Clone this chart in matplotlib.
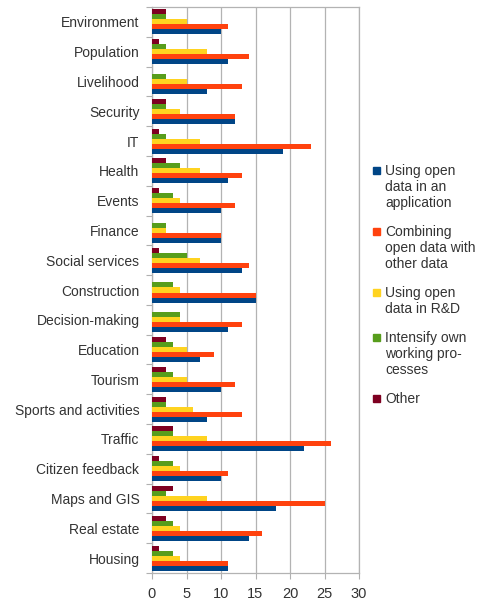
import numpy as np
import matplotlib
matplotlib.use("Agg")
import matplotlib.pyplot as plt
from matplotlib.patches import Rectangle

plt.rcParams['font.family'] = ['Liberation Sans', 'DejaVu Sans']

categories = ['Environment', 'Population', 'Livelihood', 'Security', 'IT', 'Health',
              'Events', 'Finance', 'Social services', 'Construction', 'Decision-making',
              'Education', 'Tourism', 'Sports and activities', 'Traffic',
              'Citizen feedback', 'Maps and GIS', 'Real estate', 'Housing']

application = [10, 11, 8, 12, 19, 11, 10, 10, 13, 15, 11, 7, 10, 8, 22, 10, 18, 14, 11]
combining = [11, 14, 13, 12, 23, 13, 12, 10, 14, 15, 13, 9, 12, 13, 26, 11, 25, 16, 11]
rnd = [5, 8, 5, 4, 7, 7, 4, 2, 7, 4, 4, 5, 5, 6, 8, 4, 8, 4, 4]
intensify = [2, 2, 2, 2, 2, 4, 3, 2, 5, 3, 4, 3, 3, 2, 3, 3, 2, 3, 3]
other = [2, 1, 0, 2, 1, 2, 1, 0, 1, 0, 0, 2, 2, 2, 3, 1, 3, 2, 1]

series = [
    ('Using open\ndata in an\napplication', application, '#004586'),
    ('Combining\nopen data with\nother data', combining, '#ff420e'),
    ('Using open\ndata in R&D', rnd, '#ffd320'),
    ('Intensify own\nworking pro-\ncesses', intensify, '#579d1c'),
    ('Other', other, '#7e0021'),
]

W, H = 478, 603
fig = plt.figure(figsize=(W / 100, H / 100), dpi=100)
ax = fig.add_axes([152 / W, 1 - 573 / H, 207 / W, 566 / H])

n = len(categories)
pos = np.arange(n)[::-1]
h = 0.168
for k, (name, vals, col) in enumerate(series):
    ax.barh(pos + (k - 2) * h, vals, height=h, color=col, zorder=3)

ax.set_xlim(0, 30)
ax.set_ylim(-0.5, n - 0.5)
ax.set_xticks(range(0, 31, 5))
ax.set_yticks(np.arange(n + 1) - 0.5)
ax.set_yticklabels([])
ax.set_yticks(pos, minor=True)
ax.set_yticklabels(categories, minor=True)
ax.tick_params(axis='y', which='major', length=4, color='#b0b0b0')
ax.tick_params(axis='y', which='minor', length=0, pad=9, labelsize=10, labelcolor='#333333')
ax.tick_params(axis='x', length=4, color='#b0b0b0', labelsize=10.5, labelcolor='#333333', pad=6)
ax.grid(axis='x', color='#b3b3b3', linewidth=0.9, zorder=0)
for s in ax.spines.values():
    s.set_color('#b3b3b3')
    s.set_linewidth(0.9)

# legend drawn by hand so the marker sits on the first text line
line_px = 16.3
gap_px = 12.2
y = 170.0
for name, _, col in series:
    fig.patches.append(Rectangle((373 / W, 1 - (y + 3.5) / H), 7 / W, 7 / H,
                                 transform=fig.transFigure, color=col))
    fig.text(385 / W, 1 - (y - 6) / H, name, va='top', ha='left', fontsize=10,
             color='#333333', linespacing=1.2)
    y += name.count('\n') * line_px + line_px + gap_px

fig.savefig('out.png', dpi=100)
